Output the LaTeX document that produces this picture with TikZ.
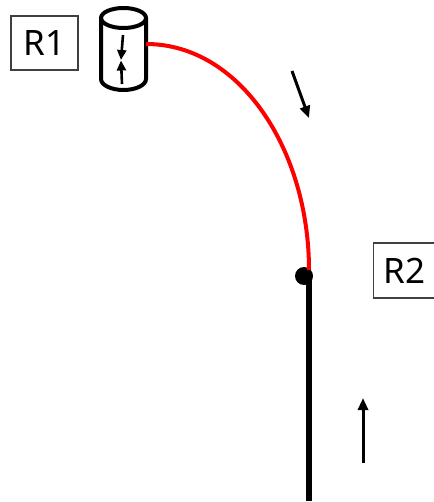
\documentclass[tikz,border=0pt]{standalone}
\usepackage{fontspec}
\setmainfont{Noto Sans}
\usetikzlibrary{arrows.meta}
\tikzset{
  labelbox/.style={draw=black!75,line width=1.1pt,fill=white,inner sep=0pt,text=black,font=\fontsize{35}{35}\selectfont},
  cyl/.style={draw=black,line width=4pt},
  flow/.style={draw=black,line width=3pt,-{Triangle[length=12pt,width=10pt]}},
  tinyflow/.style={draw=black,line width=2.6pt,-{Triangle[length=10pt,width=9pt]}},
  dotnode/.style={circle,fill=black,inner sep=0pt,minimum size=18pt},
}
\begin{document}
\begin{tikzpicture}[x=1pt,y=-1pt]
\useasboundingbox (0,0) rectangle (433,502);
\node[labelbox,minimum width=67pt,minimum height=54pt] (r1) at (44.5,43) {R1};
\node[labelbox,minimum width=66pt,minimum height=55pt,anchor=west,text width=60pt] (r2) at (373,270.5) {\hspace{7pt}R2};
% cylinder
\draw[cyl] (123.5,18) ellipse [x radius=22.5,y radius=10];
\draw[cyl] (101,18) -- (101,79) arc [start angle=180,end angle=0,x radius=22.5,y radius=11] -- (146,18);
\coordinate (c1) at (123,35);
\coordinate (c2) at (121,60);
\coordinate (c3) at (122,84);
\coordinate (c4) at (121,60.5);
\draw[tinyflow] (c1) -- (c2);
\draw[tinyflow] (c3) -- (c4);
% lines
\coordinate (rs) at (146,44);
\coordinate (re) at (309,501);
\node[dotnode] (dot) at (304,276) {};
\draw[red,line width=4pt] (rs) .. controls (240,44) and (309,150) .. (309,270);
\draw[black,line width=5.5pt] (309,272) -- (re);
% arrows
\coordinate (a1) at (292,71);
\coordinate (a2) at (309,118);
\coordinate (b1) at (363,463);
\coordinate (b2) at (363,398);
\draw[flow] (a1) -- (a2);
\draw[flow] (b1) -- (b2);
\end{tikzpicture}
\end{document}
